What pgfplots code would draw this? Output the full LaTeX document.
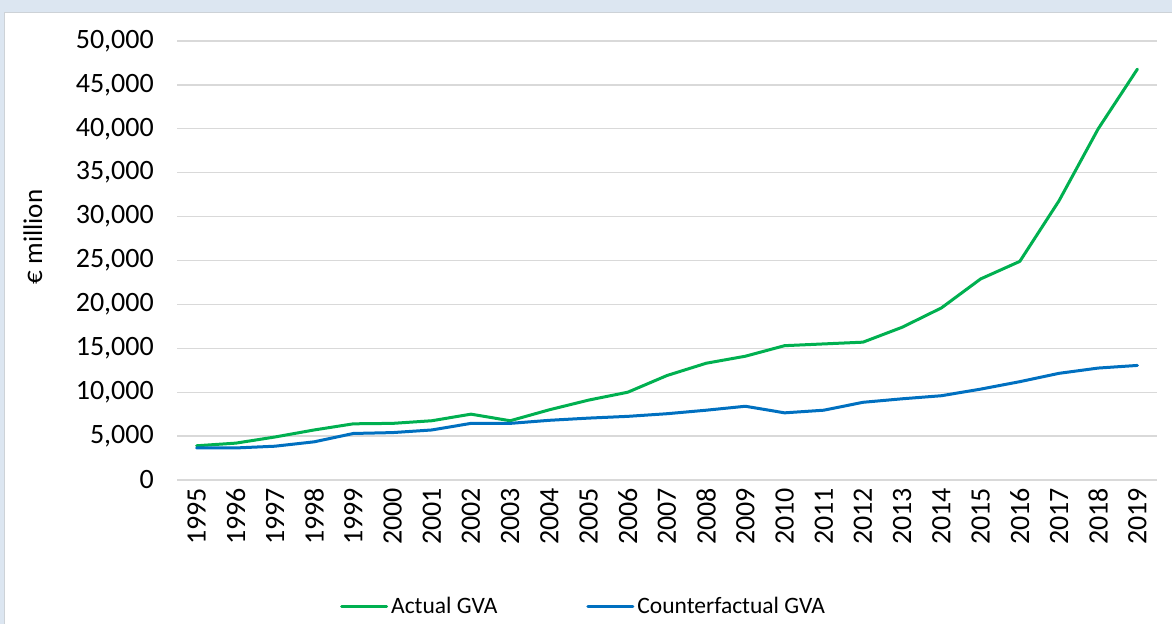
\documentclass[border=0pt]{standalone}
\usepackage{fontspec}
\setmainfont{Carlito}
\usepackage{pgfplots}
\pgfplotsset{compat=1.18}
\definecolor{bgband}{RGB}{220,230,241}
\definecolor{panelborder}{RGB}{205,210,215}
\definecolor{gridgray}{RGB}{217,217,217}
\definecolor{actgreen}{RGB}{0,176,80}
\definecolor{cfblue}{RGB}{0,112,192}
\begin{document}
\begin{tikzpicture}
\useasboundingbox (0,0) rectangle (1172bp,-624bp);
\fill[bgband] (0,0) rectangle (1172bp,-624bp);
\filldraw[fill=white, draw=panelborder, line width=1bp] (4.5bp,-12.5bp) rectangle (1180bp,-640bp);
\begin{axis}[
  at={(177bp,-480bp)}, anchor=south west,
  scale only axis, width=980bp, height=439bp,
  xmin=1994.5, xmax=2019.5, ymin=0, ymax=50000,
  xtick={1995,1996,...,2019},
  ytick={0,5000,...,50000},
  scaled y ticks=false,
  axis line style={draw=none},
  major tick length=0pt,
  ymajorgrids, grid style={gridgray, line width=1.3bp},
  font=\fontsize{28bp}{32bp}\selectfont,
  /pgf/number format/assume math mode=true,
  yticklabel style={/pgf/number format/1000 sep={,}, anchor=east, inner sep=0pt, xshift=-23bp},
  xticklabel style={/pgf/number format/1000 sep={}, rotate=90, anchor=east, inner sep=0pt},
  every x tick label/.append style={xshift=-8bp},
  ylabel={€ million},
  every axis y label/.style={at={(axis description cs:-0.147,0.5535)}, rotate=90, anchor=center, font=\fontsize{27bp}{31bp}\selectfont},
  legend columns=2,
  legend style={at={(axis description cs:0.1663,-0.287)}, anchor=west, draw=none, fill=none, inner sep=0pt,
    font=\fontsize{23.5bp}{27bp}\selectfont,
    nodes={inner sep=0pt},
    /tikz/every odd column/.append style={column sep=3bp},
    /tikz/every even column/.append style={column sep=89bp}},
  legend image code/.code={\draw[#1, line width=3bp] (0bp,0bp) -- (45bp,0bp);},
  legend cell align=left,
]
\addplot[actgreen, line width=3bp, line join=round, line cap=round] coordinates {
(1995,3900) (1996,4200) (1997,4900) (1998,5700) (1999,6400) (2000,6450) (2001,6750)
(2002,7500) (2003,6750) (2004,8000) (2005,9100) (2006,10000) (2007,11900) (2008,13300)
(2009,14100) (2010,15300) (2011,15500) (2012,15700) (2013,17400) (2014,19600)
(2015,22900) (2016,24900) (2017,31800) (2018,40000) (2019,46800)};
\addlegendentry{Actual GVA}
\addplot[cfblue, line width=3bp, line join=round, line cap=round] coordinates {
(1995,3650) (1996,3650) (1997,3850) (1998,4350) (1999,5300) (2000,5400) (2001,5700)
(2002,6450) (2003,6450) (2004,6800) (2005,7050) (2006,7250) (2007,7550) (2008,7950)
(2009,8400) (2010,7650) (2011,7950) (2012,8850) (2013,9250) (2014,9600)
(2015,10350) (2016,11200) (2017,12150) (2018,12750) (2019,13050)};
\addlegendentry{Counterfactual GVA}
\end{axis}
\end{tikzpicture}
\end{document}
